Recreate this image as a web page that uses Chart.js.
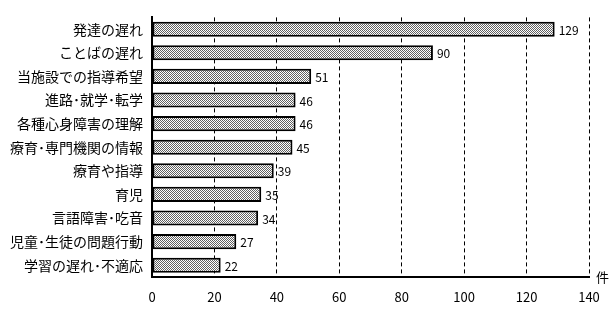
<!DOCTYPE html>
<html>
<head>
<meta charset="utf-8">
<script src="https://cdn.jsdelivr.net/npm/chart.js@4.4.0/dist/chart.umd.min.js"></script>
<style>
  html, body { margin: 0; padding: 0; background: #fff; }
  #wrap { width: 615px; height: 310px; position: relative; }
</style>
</head>
<body>
<div id="wrap"><canvas id="chart"></canvas></div>
<script>
const categories = [
  "発達の遅れ", "ことばの遅れ", "当施設での指導希望", "進路･就学･転学",
  "各種心身障害の理解", "療育･専門機関の情報", "療育や指導", "育児",
  "言語障害･吃音", "児童･生徒の問題行動", "学習の遅れ･不適応",
];
const counts = [129, 90, 51, 46, 46, 45, 39, 35, 34, 27, 22];
const xTicks = [0, 20, 40, 60, 80, 100, 120, 140];
const unitLabel = "件";

const jpFont = "'Noto Sans CJK JP', 'Noto Sans', sans-serif";

// dithered grey fill like the original
function makePattern() {
  const c = document.createElement("canvas");
  c.width = 2;
  c.height = 2;
  const g = c.getContext("2d");
  g.fillStyle = "#ffffff";
  g.fillRect(0, 0, 2, 2);
  g.fillStyle = "#606060";
  g.fillRect(0, 0, 1, 1);
  g.fillRect(1, 1, 1, 1);
  return g.createPattern(c, "repeat");
}

const valueLabels = {
  id: "valueLabels",
  afterDatasetsDraw(chart) {
    const ctx = chart.ctx;
    const meta = chart.getDatasetMeta(0);
    ctx.save();
    ctx.font = "12px " + jpFont;
    ctx.fillStyle = "#000";
    ctx.textAlign = "left";
    ctx.textBaseline = "middle";
    meta.data.forEach((bar, i) => {
      ctx.fillText(String(counts[i]), bar.x + 4, bar.y + 1);
    });
    // unit at the end of the x axis
    const area = chart.chartArea;
    ctx.font = "13px " + jpFont;
    ctx.fillText(unitLabel, area.right + 7, area.bottom);
    ctx.restore();
  },
};

new Chart(document.getElementById("chart"), {
  type: "bar",
  data: {
    labels: categories,
    datasets: [
      {
        data: counts,
        backgroundColor: makePattern(),
        borderColor: "#000",
        borderWidth: 2,
        borderSkipped: false,
        barPercentage: 0.64,
        categoryPercentage: 1,
      },
    ],
  },
  options: {
    indexAxis: "y",
    responsive: true,
    maintainAspectRatio: false,
    animation: false,
    layout: { padding: { top: 10, right: 26, left: 0, bottom: 0 } },
    plugins: {
      legend: { display: false },
      tooltip: { enabled: false },
    },
    scales: {
      x: {
        min: 0,
        max: 140,
        afterBuildTicks: (scale) => {
          scale.ticks = xTicks.map((v) => ({ value: v }));
        },
        afterFit: (scale) => {
          scale.height = 33;
        },
        ticks: {
          color: "#000",
          font: { size: 13, family: jpFont },
          padding: 12,
        },
        grid: {
          color: "#000",
          lineWidth: 1,
          drawTicks: false,
        },
        border: { display: true, color: "#000", width: 2, dash: [4, 3] },
      },
      y: {
        afterFit: (scale) => {
          scale.width = 152;
        },
        ticks: {
          color: "#000",
          font: { size: 14, family: jpFont },
          padding: 9,
        },
        grid: { display: false, drawTicks: false },
        border: { display: true, color: "#000", width: 2 },
      },
    },
  },
  plugins: [valueLabels],
});
</script>
</body>
</html>
